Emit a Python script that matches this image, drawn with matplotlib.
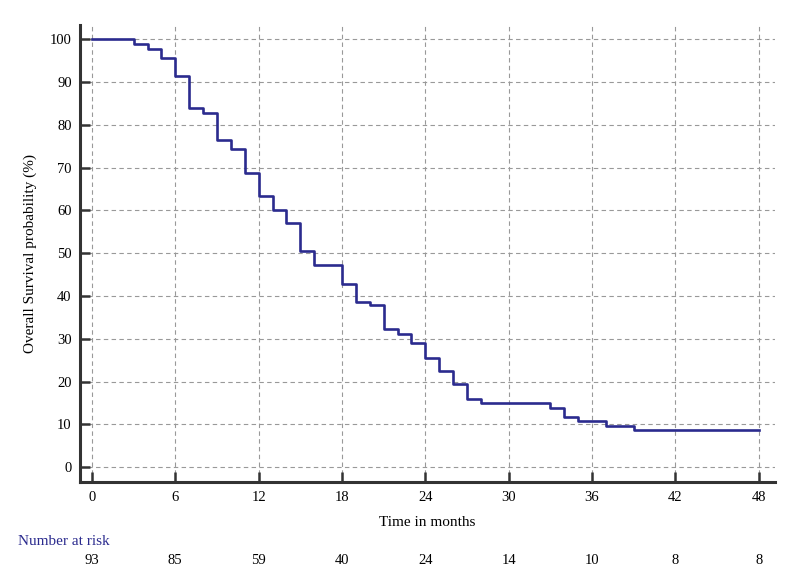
import numpy as np
from matplotlib import pyplot as plt
from matplotlib import transforms

plt.rcParams['font.family'] = ['Liberation Serif', 'DejaVu Serif']

# Kaplan-Meier step points
months = [0, 3, 4, 5, 6, 7, 8, 9, 10, 11, 12, 13, 14, 15, 16, 18, 19, 20, 21,
          22, 23, 24, 25, 26, 27, 28, 33, 34, 35, 37, 39, 48]
survival = [100, 98.9, 97.8, 95.7, 91.5, 84.0, 82.8, 76.4, 74.3, 68.8, 63.4,
            60.1, 57.1, 50.4, 47.3, 42.9, 38.7, 37.8, 32.2, 31.2, 29.1, 25.6,
            22.5, 19.4, 16.0, 15.1, 13.8, 11.8, 10.9, 9.7, 8.6, 8.6]
risk_times = [0, 6, 12, 18, 24, 30, 36, 42, 48]
at_risk = [93, 85, 59, 40, 24, 14, 10, 8, 8]

fig = plt.figure(figsize=(7.92, 5.81), dpi=100)
ax = fig.add_axes([0.101, 0.170, 0.878, 0.787])

ax.step(months, survival, where='post', color='#2b2b8e', lw=1.9, zorder=3)

ax.set_xlim(-0.86, 49.2)
ax.set_ylim(-3.5, 103.3)
ax.set_xticks(range(0, 49, 6))
ax.set_yticks(range(0, 101, 10))
ax.grid(True, ls=(0, (4, 3)), color='#999999', lw=0.8)

for s in ['top', 'right']:
    ax.spines[s].set_visible(False)
for s in ['left', 'bottom']:
    ax.spines[s].set_linewidth(2.2)
    ax.spines[s].set_color('#333333')
ax.tick_params(direction='in', length=7.5, width=1.8, color='#333333',
               labelsize=10.5, pad=6)

ax.set_xlabel("Time in months", fontsize=11, labelpad=9)
ax.set_ylabel("Overall Survival probability (%)", fontsize=11, labelpad=9)

trans = transforms.blended_transform_factory(ax.transData, fig.transFigure)
fig.text(0.023, 0.068, "Number at risk", fontsize=11, color='#2b2b8e',
         ha='left', va='center')
for t, n in zip(risk_times, at_risk):
    ax.text(t, 0.036, str(n), transform=trans, fontsize=10.5,
            ha='center', va='center')

fig.savefig('out.png', dpi=100)
